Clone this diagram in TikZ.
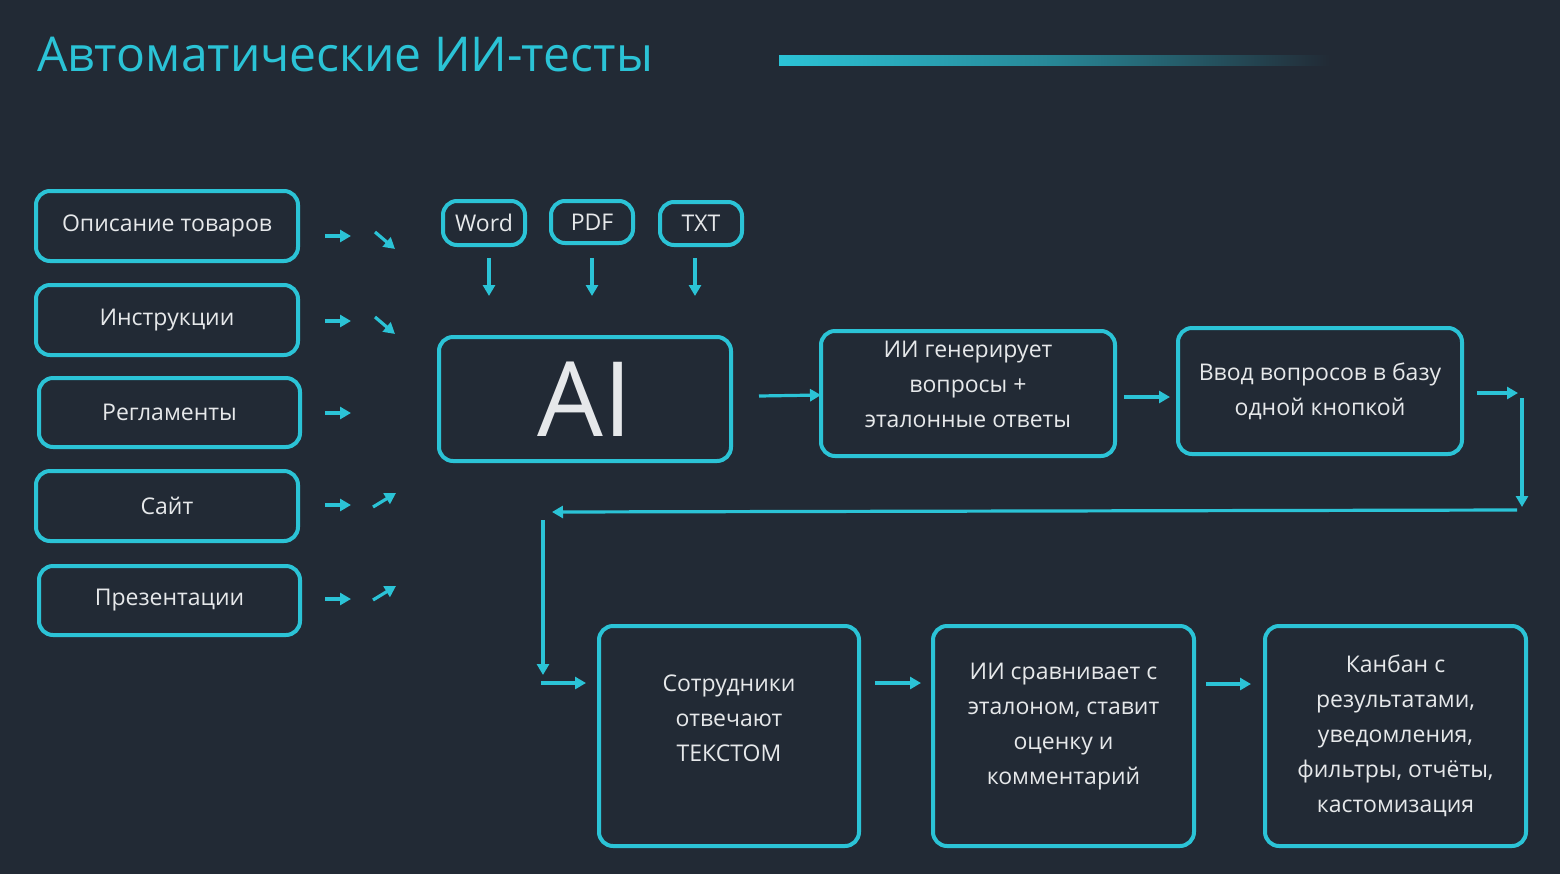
\documentclass[tikz,border=0pt]{standalone}
\usepackage{fontspec}
\setmainfont{Open Sans}
\usetikzlibrary{arrows.meta}
\definecolor{bg}{HTML}{222A35}
\definecolor{cy}{HTML}{2BC3D6}
\definecolor{tx}{HTML}{E6E8EA}
\begin{document}
\begin{tikzpicture}[x=0.5pt,y=-0.5pt,
  box/.style={draw=cy,line width=2pt,rounded corners=7pt,anchor=north west,inner sep=0pt,text=tx,font=\fontsize{11.5}{17.5}\selectfont,align=center},
  ar/.style={cy,line width=1.6pt,-{Triangle[length=5.5pt,width=6pt]}}]
\fill[bg] (0,0) rectangle (1560,874);
\useasboundingbox (0,0) rectangle (1560,874);
\node[anchor=west,text=cy,font=\fontsize{24}{30}\selectfont] (title) at (30,55) {Автоматические ИИ-тесты};
\shade[left color=cy,right color=bg,middle color=cy!60!bg] (779,55) rectangle (1330,65);
\def\bx#1#2#3#4#5#6{\node[box,minimum width={(#4-#2)*0.5pt},minimum height={(#5-#3)*0.5pt}] (#1) at (#2,#3) {#6};}
\bx{a}{34}{189}{296}{259}{Описание товаров}
\bx{b}{34}{283}{296}{353}{Инструкции}
\bx{c}{37}{376}{298}{445}{Регламенты}
\bx{d}{34}{469}{296}{539}{Сайт}
\bx{e}{37}{564}{298}{633}{Презентации}
\bx{w}{441}{199}{523}{243}{Word}
\bx{p}{549}{199}{631}{241}{PDF}
\bx{t}{658}{200}{740}{243}{TXT}
\node[box,minimum width=146pt,minimum height=62pt] (ai) at (437,335) {\fontsize{52}{52}\selectfont AI};
\bx{g}{819}{329}{1113}{454}{ИИ генерирует\\вопросы +\\эталонные ответы\\[-8pt]~}
\bx{v}{1176}{326}{1460}{452}{Ввод вопросов в базу\\одной кнопкой}
\bx{s}{597}{624}{857}{844}{Сотрудники\\отвечают\\ТЕКСТОМ\\~}
\bx{k}{931}{624}{1192}{844}{ИИ сравнивает с\\эталоном, ставит\\оценку и\\комментарий\\[-5pt]~}
\bx{r}{1263}{624}{1524}{844}{Канбан с\\результатами,\\уведомления,\\фильтры, отчёты,\\кастомизация}
% small arrows
\foreach \y in {236,321,413,505,599} \draw[ar] (325,\y) -- (351,\y);
\draw[ar] (375,232) -- (395,249);
\draw[ar] (375,317) -- (395,334);
\draw[ar] (373,507) -- (396,493);
\draw[ar] (373,600) -- (396,586);
\foreach \x in {489,592,695} \draw[ar] (\x,258) -- (\x,296);
\draw[ar] (759,396) -- (821,395);
\draw[ar] (1124,397) -- (1170,397);
\draw[ar] (1477,393) -- (1518,393);
\draw[ar] (1522,398) -- (1522,507);
\draw[ar] (1517,510) -- (552,512);
\draw[ar] (543,520) -- (543,675);
\draw[ar] (541,683) -- (586,683);
\draw[ar] (875,683) -- (921,683);
\draw[ar] (1206,684) -- (1251,684);
\end{tikzpicture}
\end{document}
